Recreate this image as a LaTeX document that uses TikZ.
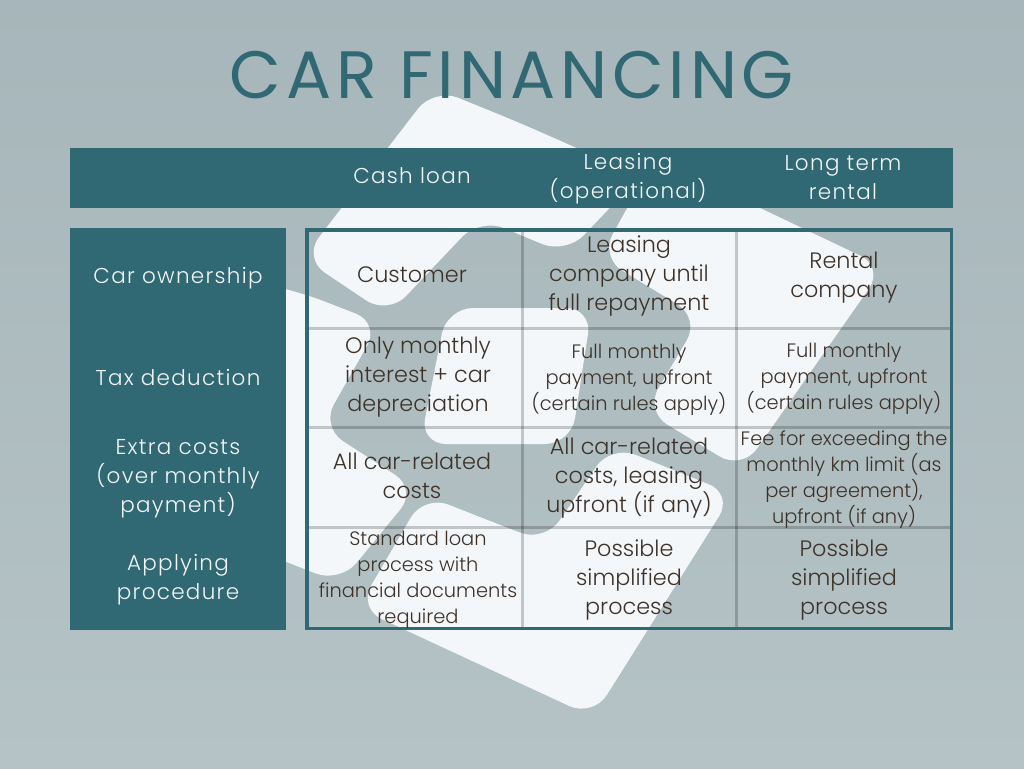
\documentclass[tikz,border=0pt]{standalone}
\usepackage{fontspec}
\setmainfont{Poppins Light}
\newfontfamily\titlefont[LetterSpace=7]{Poppins}
\newfontfamily\barfont[LetterSpace=6]{Poppins Light}
\definecolor{teal}{HTML}{306874}
\definecolor{paper}{HTML}{F3F7FA}
\definecolor{ink}{HTML}{3E3228}
\definecolor{bgtop}{HTML}{A7B6BA}
\definecolor{bgbottom}{HTML}{B5C3C6}
\tikzset{
	barlabel/.style={align=center, text=paper, inner sep=0pt, font=\barfont\fontsize{21.5}{29}\selectfont},
	celltext/.style={align=center, text=ink, inner sep=0pt, font=\fontsize{22.3}{29}\selectfont},
	smalltext/.style={align=center, text=ink, inner sep=0pt, font=\fontsize{19.4}{26}\selectfont},
	gridline/.style={line width=3pt, black, opacity=0.2},
	blob/.style={fill=paper, rounded corners=26pt}
}
\begin{document}
\begin{tikzpicture}[x=1pt, y=-1pt]
	% page and background
	\useasboundingbox (0,0) rectangle (1024,768);
	\shade[top color=bgtop, bottom color=bgbottom] (0,0) rectangle (1024,768);
	% white logo behind the table
	\fill[blob] (520,123) -- (640,176) -- (566,254) -- (480,218) -- (388,315) -- (303,258) -- (434,88) -- cycle;
	\fill[blob] (760,208) -- (884,267) -- (742,470) -- (645,411) -- (700,318) -- (600,257) -- (655,158) -- cycle;
	\fill[blob] (300,292) -- (380,323) -- (321,427) -- (417,489) -- (340,583) -- (200,528) -- (200,270) -- cycle;
	\fill[blob] (520,308) -- (592,308) -- (571,444) -- (420,444) -- (447,308) -- cycle;
	\fill[blob] (500,525) -- (545,542) -- (611,445) -- (733,494) -- (593,717) -- (358,608) -- (424,495) -- cycle;
	% bars
	\fill[teal] (70,148) rectangle (953,208);
	\fill[teal] (70,228) rectangle (286,630);
	% grid
	\foreach \gx in {522,736}
	{
		\draw[gridline] (\gx,230) -- (\gx,628);
	}
	\foreach \gy in {328,427,527}
	{
		\draw[gridline] (307,\gy) -- (951,\gy);
	}
	\draw[teal, line width=3.5pt] (306.75,229.75) rectangle (951.25,628.25);
	% title
	\node[text=teal, inner sep=0pt, font=\titlefont\fontsize{67}{70}\selectfont] (title) at (512,75) {CAR FINANCING};
	% header and row labels
	\foreach \coords/\label [count=\index] in {
		(412,176)/{Cash loan},
		(628,179)/{Leasing\\(operational)},
		(843,177.5)/{Long term\\rental},
		(178,278)/{Car ownership},
		(178,378)/{Tax deduction},
		(178,479)/{Extra costs\\(over monthly\\payment)},
		(178,580)/{Applying\\procedure}}
	{
		\node[barlabel] (bar_\index) at \coords {\label};
	}
	% cells with large text
	\foreach \coords/\label [count=\index] in {
		(412,275)/{Customer},
		(629,276)/{Leasing\\company until\\full repayment},
		(844,278)/{Rental\\company},
		(418,377)/{Only monthly\\interest + car\\depreciation},
		(412,476)/{All car-related\\costs},
		(629,478)/{All car-related\\costs, leasing\\upfront (if any)},
		(629,580)/{Possible\\simplified\\process},
		(844,580)/{Possible\\simplified\\process}}
	{
		\node[celltext] (cell_\index) at \coords {\label};
	}
	% cells with small text
	\foreach \coords/\label [count=\index] in {
		(629,380)/{Full monthly\\payment, upfront\\(certain rules apply)},
		(844,379)/{Full monthly\\payment, upfront\\(certain rules apply)},
		(844,480)/{Fee for exceeding the\\monthly km limit (as\\per agreement),\\upfront (if any)},
		(418,580)/{Standard loan\\process with\\financial documents\\required}}
	{
		\node[smalltext] (small_\index) at \coords {\label};
	}
\end{tikzpicture}
\end{document}
